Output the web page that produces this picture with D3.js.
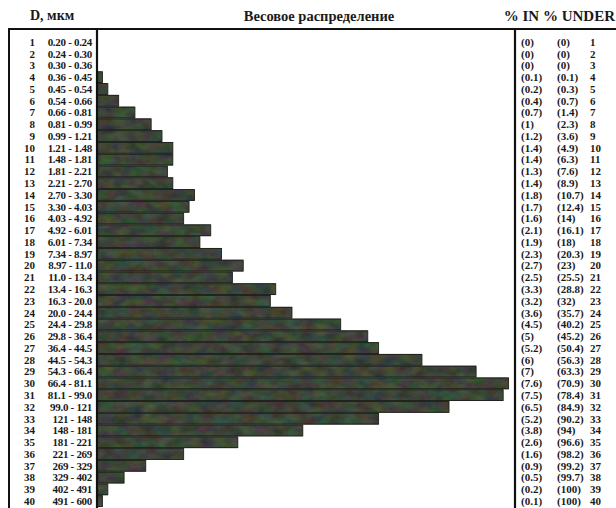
<!DOCTYPE html>
<html>
<head>
<meta charset="utf-8">
<script src="https://cdn.jsdelivr.net/npm/d3@7"></script>
<style>
  html, body { margin: 0; padding: 0; background: #ffffff; }
  svg { display: block; }
</style>
</head>
<body>
<svg id="chart" width="616" height="508"></svg>
<script>
// Size classes (µm), weight fraction per class and cumulative fraction below
const sizeRanges = [
  "0.20 - 0.24", "0.24 - 0.30", "0.30 - 0.36", "0.36 - 0.45", "0.45 - 0.54",
  "0.54 - 0.66", "0.66 - 0.81", "0.81 - 0.99", "0.99 - 1.21", "1.21 - 1.48",
  "1.48 - 1.81", "1.81 - 2.21", "2.21 - 2.70", "2.70 - 3.30", "3.30 - 4.03",
  "4.03 - 4.92", "4.92 - 6.01", "6.01 - 7.34", "7.34 - 8.97", "8.97 - 11.0",
  "11.0 - 13.4", "13.4 - 16.3", "16.3 - 20.0", "20.0 - 24.4", "24.4 - 29.8",
  "29.8 - 36.4", "36.4 - 44.5", "44.5 - 54.3", "54.3 - 66.4", "66.4 - 81.1",
  "81.1 - 99.0", "99.0 - 121", "121 - 148", "148 - 181", "181 - 221",
  "221 - 269", "269 - 329", "329 - 402", "402 - 491", "491 - 600"
];
const pctIn = [
  0, 0, 0, 0.1, 0.2, 0.4, 0.7, 1, 1.2, 1.4,
  1.4, 1.3, 1.4, 1.8, 1.7, 1.6, 2.1, 1.9, 2.3, 2.7,
  2.5, 3.3, 3.2, 3.6, 4.5, 5, 5.2, 6, 7, 7.6,
  7.5, 6.5, 5.2, 3.8, 2.6, 1.6, 0.9, 0.5, 0.2, 0.1
];
const pctUnder = [
  0, 0, 0, 0.1, 0.3, 0.7, 1.4, 2.3, 3.6, 4.9,
  6.3, 7.6, 8.9, 10.7, 12.4, 14, 16.1, 18, 20.3, 23,
  25.5, 28.8, 32, 35.7, 40.2, 45.2, 50.4, 56.3, 63.3, 70.9,
  78.4, 84.9, 90.2, 94, 96.6, 98.2, 99.2, 99.7, 100, 100
];
const headers = { size: "D, мкм", dist: "Весовое распределение", pct: "% IN % UNDER" };

const rows = sizeRanges.map((r, i) => ({ n: i + 1, range: r, pin: pctIn[i], punder: pctUnder[i] }));

const FONT = "'Liberation Serif', 'DejaVu Serif', serif";
const svg = d3.select("#chart");

// Frame geometry
const frameLeft = 9, frameTop = 29;
const plotLeft = 97, plotRight = 515;
const rowTop = 36, rowBottom = 507;

const x = d3.scaleLinear().domain([0, 7.7]).range([plotLeft, plotLeft + 417]);
const y = d3.scaleBand().domain(rows.map(d => d.n)).range([rowTop, rowBottom]).paddingInner(0);

// Mottled texture for the bars
const defs = svg.append("defs");
const f = defs.append("filter").attr("id", "mottle")
  .attr("x", 0).attr("y", 0).attr("width", 1).attr("height", 1)
  .attr("color-interpolation-filters", "sRGB");
f.append("feTurbulence").attr("type", "fractalNoise").attr("baseFrequency", "0.07 0.12")
  .attr("numOctaves", 3).attr("seed", 7).attr("result", "noise");
f.append("feColorMatrix").attr("in", "noise").attr("type", "matrix")
  .attr("values", "0.24 0 0 0 0.12  0 0.24 0 0 0.15  0 0 0.22 0 0.11  0 0 0 0 1")
  .attr("result", "tint");
f.append("feComposite").attr("in", "tint").attr("in2", "SourceGraphic").attr("operator", "in");

// Bars
const barData = rows.filter(d => d.pin > 0);
const barG = svg.append("g");
barG.append("g").attr("filter", "url(#mottle)")
  .selectAll("rect").data(barData).join("rect")
  .attr("x", x(0))
  .attr("y", d => y(d.n))
  .attr("width", d => x(d.pin) - x(0))
  .attr("height", y.bandwidth())
  .attr("fill", "#3d463c");
barG.append("g")
  .selectAll("rect").data(barData).join("rect")
  .attr("x", x(0))
  .attr("y", d => y(d.n) + 0.5)
  .attr("width", d => x(d.pin) - x(0))
  .attr("height", y.bandwidth() - 1)
  .attr("fill", "none")
  .attr("stroke", "#1d211c")
  .attr("stroke-width", 0.9);

// Frame lines
const lines = svg.append("g").attr("stroke", "#111").attr("fill", "none");
lines.append("line").attr("x1", frameLeft - 1).attr("x2", 616).attr("y1", frameTop).attr("y2", frameTop).attr("stroke-width", 2.2);
lines.append("line").attr("x1", frameLeft).attr("x2", frameLeft).attr("y1", frameTop).attr("y2", 508).attr("stroke-width", 2);
lines.append("line").attr("x1", plotLeft).attr("x2", plotLeft).attr("y1", frameTop).attr("y2", 508).attr("stroke-width", 2.2);
lines.append("line").attr("x1", plotRight).attr("x2", plotRight).attr("y1", frameTop).attr("y2", 508).attr("stroke-width", 2.2);

// Headers
const head = svg.append("g").attr("font-family", FONT).attr("font-weight", "bold").attr("fill", "#1a1a1a");
head.append("text").attr("x", 30).attr("y", 20).attr("font-size", 14).text(headers.size);
head.append("text").attr("x", 319).attr("y", 21).attr("font-size", 14.5)
  .attr("text-anchor", "middle").text(headers.dist);
head.append("text").attr("x", 615).attr("y", 21).attr("font-size", 15)
  .attr("text-anchor", "end").text(headers.pct);

// Left labels: row number and size class
const left = svg.append("g").attr("font-family", FONT).attr("font-weight", "bold")
  .attr("fill", "#1a1a1a").attr("font-size", 11);
left.selectAll("text.num").data(rows).join("text").attr("class", "num")
  .attr("x", 35).attr("y", d => y(d.n) + y.bandwidth() / 2).attr("dy", "0.35em")
  .attr("text-anchor", "end").text(d => d.n);
left.selectAll("text.rng").data(rows).join("text").attr("class", "rng")
  .attr("x", 92).attr("y", d => y(d.n) + y.bandwidth() / 2).attr("dy", "0.35em")
  .attr("text-anchor", "end").attr("letter-spacing", -0.3).text(d => d.range);

// Right labels: % in, % under, row number
const right = svg.append("g").attr("font-family", FONT).attr("font-weight", "bold")
  .attr("fill", "#1a1a1a").attr("font-size", 11);
right.selectAll("text.pin").data(rows).join("text").attr("class", "pin")
  .attr("x", 521).attr("y", d => y(d.n) + y.bandwidth() / 2).attr("dy", "0.35em")
  .text(d => "(" + d.pin + ")");
right.selectAll("text.pun").data(rows).join("text").attr("class", "pun")
  .attr("x", 557).attr("y", d => y(d.n) + y.bandwidth() / 2).attr("dy", "0.35em")
  .text(d => "(" + d.punder + ")");
right.selectAll("text.rn").data(rows).join("text").attr("class", "rn")
  .attr("x", 590).attr("y", d => y(d.n) + y.bandwidth() / 2).attr("dy", "0.35em")
  .text(d => d.n);
</script>
</body>
</html>
